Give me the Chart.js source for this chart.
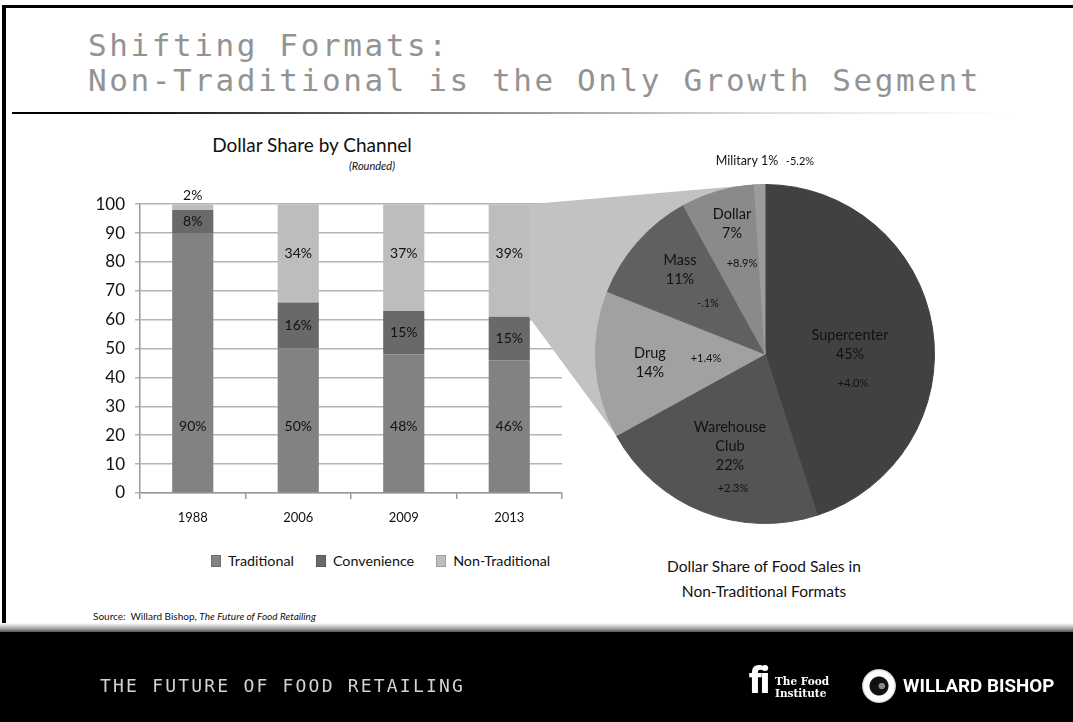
<!DOCTYPE html>
<html>
<head>
<meta charset="utf-8">
<script src="https://cdn.jsdelivr.net/npm/chart.js@4.4.1/dist/chart.umd.min.js"></script>
<style>
  body { margin: 0; width: 1073px; height: 722px; background: #fff; position: relative; overflow: hidden; font-family: Lato, 'Open Sans', sans-serif; color: #111; }
  .abs { position: absolute; }
  #frameTop { left: 2px; top: 5px; width: 1071px; height: 3px; background: #000; }
  #frameLeft { left: 2px; top: 5px; width: 4px; height: 620px; background: #000; }
  #title { left: 88px; top: 28px; font-family: 'DejaVu Sans Mono', monospace; font-size: 31px; line-height: 35px; letter-spacing: 2.6px; color: #939393; white-space: pre; }
  #rule { left: 12px; top: 112px; width: 1000px; height: 2px; background: linear-gradient(to right, #000 0%, #000 8%, #777 40%, #ddd 75%, rgba(255,255,255,0) 100%); }
  #barTitle { left: 212px; top: 133px; width: 200px; text-align: center; font-size: 19px; }
  #barSub { left: 322px; top: 159px; width: 100px; text-align: center; font-size: 11px; font-style: italic; }
  #barCanvas { left: 60px; top: 184px; z-index: 1; }
  #linkCanvas { left: 0; top: 0; z-index: 2; pointer-events: none; }
  #pieCanvas { left: 595px; top: 144px; z-index: 3; }
  #legend { left: 211px; top: 552px; display: flex; font-size: 14.3px; }
  #legend .item { display: flex; align-items: center; margin-right: 22px; }
  #legend .sw { width: 10px; height: 12px; margin-right: 7px; box-shadow: inset 0 0 0 1px rgba(0,0,0,0.15); }
  #pieTitle { left: 614px; top: 554px; width: 300px; text-align: center; font-size: 15.5px; line-height: 25px; }
  #source { left: 93px; top: 610px; font-size: 10px; }
  #footEdge { left: 0; top: 623px; width: 1073px; height: 9px; background: linear-gradient(to bottom, #fff, #b0b0b0 55%, #555); }
  #footer { left: 0; top: 632px; width: 1073px; height: 90px; background: #000; }
  #footText { left: 100px; top: 675px; font-family: 'DejaVu Sans Mono', monospace; font-size: 18px; letter-spacing: 2.2px; color: #d2d2d2; z-index: 4; }
  #fi { left: 749px; top: 660px; font-family: Roboto, sans-serif; font-weight: 900; font-size: 36px; color: #fff; letter-spacing: -2px; z-index: 4; }
  #fiText { left: 775px; top: 675px; font-family: 'DejaVu Serif', serif; font-weight: bold; font-size: 10.5px; line-height: 12px; color: #fff; z-index: 4; }
  #ring { left: 862px; top: 669px; width: 34px; height: 34px; border-radius: 50%; z-index: 4;
          background: radial-gradient(circle at 58% 50%, #888 0 3px, transparent 3.5px), radial-gradient(circle, #111 0 9px, #fff 10px 15px, #bbb 17px, transparent 17.5px); }
  #wb { left: 903px; top: 675px; font-family: Roboto, sans-serif; font-weight: 700; font-size: 18.8px; color: #fff; z-index: 4; }
</style>
</head>
<body>
<div id="frameTop" class="abs"></div>
<div id="frameLeft" class="abs"></div>
<div id="title" class="abs">Shifting Formats:
Non-Traditional is the Only Growth Segment</div>
<div id="rule" class="abs"></div>

<div id="barTitle" class="abs">Dollar Share by Channel</div>
<div id="barSub" class="abs">(Rounded)</div>
<canvas id="barCanvas" class="abs" width="510" height="346"></canvas>
<canvas id="linkCanvas" class="abs" width="1073" height="722"></canvas>
<canvas id="pieCanvas" class="abs" width="340" height="390"></canvas>
<div id="legend" class="abs"></div>
<div id="pieTitle" class="abs">Dollar Share of Food Sales in<br>Non-Traditional Formats</div>
<div id="source" class="abs">Source:&nbsp; Willard Bishop, <i>The Future of Food Retailing</i></div>

<div id="footEdge" class="abs"></div>
<div id="footer" class="abs"></div>
<div id="footText" class="abs">THE FUTURE OF FOOD RETAILING</div>
<div id="fi" class="abs">fi</div>
<div id="fiText" class="abs">The Food<br>Institute</div>
<div id="ring" class="abs"></div>
<div id="wb" class="abs">WILLARD BISHOP</div>

<script>
// ---- stacked bars: dollar share by channel ----
const years = ['1988', '2006', '2009', '2013'];
const traditional = [90, 50, 48, 46];
const convenience = [8, 16, 15, 15];
const nonTraditional = [2, 34, 37, 39];
const seriesNames = ['Traditional', 'Convenience', 'Non-Traditional'];
const seriesColors = ['#828282', '#696969', '#bdbdbd'];

// ---- pie: non-traditional formats ----
const channels = ['Supercenter', 'Warehouse\nClub', 'Drug', 'Mass', 'Dollar', 'Military'];
const channelShare = [45, 22, 14, 11, 7, 1];
const channelChange = ['+4.0%', '+2.3%', '+1.4%', '-.1%', '+8.9%', '-5.2%'];
const channelColors = ['#414141', '#545454', '#a1a1a1', '#606060', '#8a8a8a', '#9c9c9c'];

const FONT = 'Lato, "Open Sans", sans-serif';

// label offsets from the pie centre (name block centre, change label)
const pieLabelPos = [
  { name: [85, -9], change: [88, 29] },
  { name: [-35, 92], change: [-32, 134] },
  { name: [-115, 9], change: [-59, 4] },
  { name: [-85, -84], change: [-57, -51] },
  { name: [-33, -130], change: [-23, -91] },
  { name: [-18, -193], change: [35, -193], inline: true }
];

const barLabels = {
  id: 'barLabels',
  afterDatasetsDraw(chart) {
    const { ctx } = chart;
    const y = chart.scales.y;
    ctx.save();
    ctx.font = '14px ' + FONT;
    ctx.fillStyle = '#111';
    ctx.textAlign = 'center';
    ctx.textBaseline = 'middle';
    chart.data.datasets.forEach((ds, di) => {
      chart.getDatasetMeta(di).data.forEach((bar, i) => {
        const v = ds.data[i];
        let py;
        if (v < 5) py = bar.y - 9;                       // too thin, sit above the bar
        else if (ds.labelAt != null) py = y.getPixelForValue(ds.labelAt);
        else py = (bar.y + bar.base) / 2;
        ctx.fillText(v + '%', bar.x, py);
      });
    });
    ctx.restore();
  }
};

const barChart = new Chart(document.getElementById('barCanvas'), {
  type: 'bar',
  data: {
    labels: years,
    datasets: [
      { label: seriesNames[0], data: traditional, backgroundColor: seriesColors[0], labelAt: 23 },
      { label: seriesNames[1], data: convenience, backgroundColor: seriesColors[1] },
      { label: seriesNames[2], data: nonTraditional, backgroundColor: seriesColors[2], labelAt: 83 }
    ]
  },
  options: {
    responsive: false,
    animation: false,
    datasets: { bar: { categoryPercentage: 1, barPercentage: 0.39 } },
    layout: { padding: { top: 14, right: 8, left: 0, bottom: 0 } },
    plugins: { legend: { display: false }, tooltip: { enabled: false } },
    scales: {
      x: {
        stacked: true,
        grid: { display: true, drawOnChartArea: false, drawTicks: true, tickLength: 6, color: '#999', lineWidth: 1.5, offset: true },
        border: { display: true, color: '#999', width: 1.5 },
        ticks: { font: { family: FONT, size: 13 }, color: '#111', padding: 11 },
        afterFit: s => { s.height = 37; }
      },
      y: {
        stacked: true,
        min: 0, max: 100,
        ticks: { stepSize: 10, font: { family: FONT, size: 17 }, color: '#111', padding: 10 },
        grid: { color: '#b4b4b4', lineWidth: 1.5, tickLength: 5 },
        border: { display: true, color: '#999', width: 1.5 },
        afterFit: s => { s.width = 80; }
      }
    }
  },
  plugins: [barLabels]
});

const pieLabels = {
  id: 'pieLabels',
  afterDatasetsDraw(chart) {
    const { ctx } = chart;
    const arcs = chart.getDatasetMeta(0).data;
    const cx = arcs[0].x, cy = arcs[0].y;
    ctx.save();
    ctx.fillStyle = '#111';
    ctx.textAlign = 'center';
    ctx.textBaseline = 'middle';
    channels.forEach((name, i) => {
      const pos = pieLabelPos[i];
      const pct = channelShare[i] + '%';
      if (pos.inline) {
        ctx.font = '12.5px ' + FONT;
        ctx.fillText(name + ' ' + pct, cx + pos.name[0], cy + pos.name[1]);
      } else {
        const lines = name.split('\n').concat(pct);
        ctx.font = '14.5px ' + FONT;
        const lh = 19;
        const top = cy + pos.name[1] - (lines.length - 1) * lh / 2;
        lines.forEach((t, k) => ctx.fillText(t, cx + pos.name[0], top + k * lh));
      }
      ctx.font = '11px ' + FONT;
      ctx.fillText(channelChange[i], cx + pos.change[0], cy + pos.change[1]);
    });
    ctx.restore();
  }
};

const pieChart = new Chart(document.getElementById('pieCanvas'), {
  type: 'pie',
  data: {
    labels: channels,
    datasets: [{ data: channelShare, backgroundColor: channelColors, borderColor: channelColors, borderWidth: 1 }]
  },
  options: {
    responsive: false,
    animation: false,
    layout: { padding: { top: 40, bottom: 10, left: 0, right: 0 } },
    plugins: { legend: { display: false }, tooltip: { enabled: false } }
  },
  plugins: [pieLabels]
});

// callout linking the 2013 non-traditional segment to the pie
function drawLink() {
  const ctx = document.getElementById('linkCanvas').getContext('2d');
  const barBox = document.getElementById('barCanvas').getBoundingClientRect();
  const pieBox = document.getElementById('pieCanvas').getBoundingClientRect();
  const seg = barChart.getDatasetMeta(2).data[years.length - 1];
  const right = barBox.left + seg.x + seg.width / 2;
  const arcs = pieChart.getDatasetMeta(0).data;
  const cx = pieBox.left + arcs[0].x, cy = pieBox.top + arcs[0].y, r = arcs[0].outerRadius;
  const a1 = arcs[arcs.length - 1].startAngle;
  const a2 = arcs[1].endAngle;
  ctx.fillStyle = '#c2c2c2';
  ctx.beginPath();
  ctx.moveTo(right - 1, barBox.top + seg.y);
  ctx.lineTo(cx + r * Math.cos(a1), cy + r * Math.sin(a1));
  ctx.lineTo(cx, cy);
  ctx.lineTo(cx + r * Math.cos(a2), cy + r * Math.sin(a2));
  ctx.lineTo(right - 1, barBox.top + seg.base);
  ctx.closePath();
  ctx.fill();
}
drawLink();

// legend under the bars
document.getElementById('legend').innerHTML = seriesNames.map((n, i) =>
  `<div class="item"><span class="sw" style="background:${seriesColors[i]}"></span>${n}</div>`
).join('');
</script>
</body>
</html>
